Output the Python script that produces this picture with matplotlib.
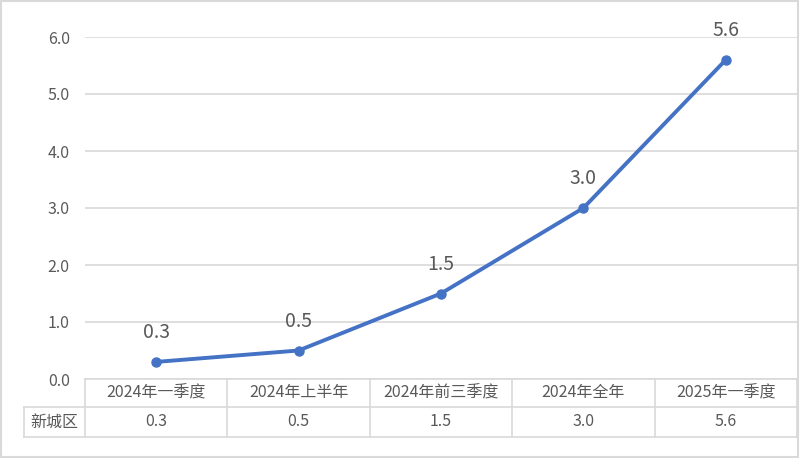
import matplotlib.pyplot as plt
from matplotlib.patches import Rectangle
import matplotlib.transforms as mtransforms

plt.rcParams['font.family'] = ['Noto Sans CJK SC', 'DejaVu Sans']

# data
categories = ['2024年一季度', '2024年上半年', '2024年前三季度', '2024年全年', '2025年一季度']
values = [0.3, 0.5, 1.5, 3.0, 5.6]
series_name = '新城区'
yticks = [0.0, 1.0, 2.0, 3.0, 4.0, 5.0, 6.0]

line_color = '#4472C4'
grid_color = '#D9D9D9'
text_color = '#595959'

fig = plt.figure(figsize=(8, 4.58), dpi=100)
ax = fig.add_axes([85 / 800, 1 - 379 / 458, 712 / 800, 342 / 458])

x = list(range(len(categories)))
ax.plot(x, values, color=line_color, lw=2.8, marker='o', ms=6.5,
        solid_capstyle='round', zorder=3)

for xi, v in zip(x, values):
    ax.annotate(f'{v:.1f}', (xi, v), xytext=(0, 21), textcoords='offset points',
                ha='center', va='center', fontsize=14, color=text_color)

ax.set_xlim(-0.5, len(categories) - 0.5)
ax.set_ylim(0, 6)
ax.set_yticks(yticks)
ax.set_yticklabels([f'{t:.1f}' for t in yticks])
ax.tick_params(axis='y', length=0, pad=11, labelsize=11.5, labelcolor=text_color)
ax.set_xticks([])
ax.grid(axis='y', color=grid_color, lw=1.2)
ax.set_axisbelow(True)
for s in ax.spines.values():
    s.set_visible(False)

# data table under the axis
trans = mtransforms.blended_transform_factory(ax.transData, ax.transAxes)
r1 = -28 / 342
r2 = -58 / 342
left = -0.5 - 61 / 142.4
n = len(categories)
kw = dict(transform=trans, color=grid_color, lw=1.2, clip_on=False)
ax.plot([-0.5, n - 0.5], [0, 0], **kw)
ax.plot([left, n - 0.5], [r1, r1], **kw)
ax.plot([left, n - 0.5], [r2, r2], **kw)
ax.plot([left, left], [r1, r2], **kw)
for b in range(n + 1):
    ax.plot([b - 0.5, b - 0.5], [0, r2], **kw)

for xi, cat, v in zip(x, categories, values):
    ax.text(xi, r1 / 2, cat, transform=trans, ha='center', va='center',
            fontsize=11.5, color=text_color)
    ax.text(xi, (r1 + r2) / 2, f'{v:.1f}', transform=trans, ha='center',
            va='center', fontsize=11.5, color=text_color)
ax.text((left - 0.5) / 2, (r1 + r2) / 2, series_name, transform=trans,
        ha='center', va='center', fontsize=11.5, color=text_color)

# chart border
fig.patches.append(Rectangle((0.001, 0.002), 0.997, 0.995, transform=fig.transFigure,
                             fill=False, edgecolor=grid_color, lw=1.5))

fig.savefig('out.png', dpi=100)
